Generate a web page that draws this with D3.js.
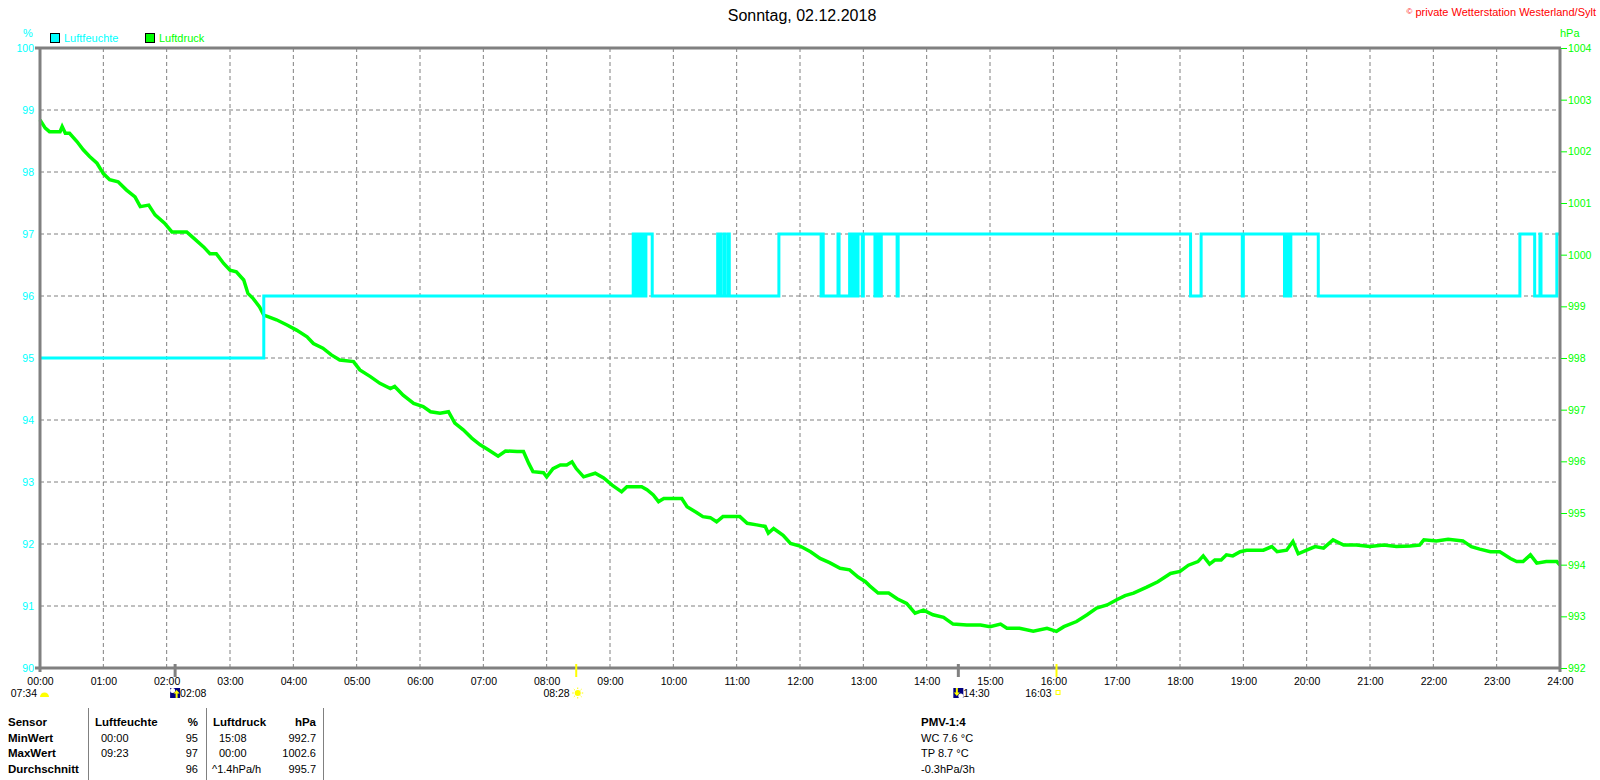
<!DOCTYPE html>
<html>
<head>
<meta charset="utf-8">
<script src="https://cdn.jsdelivr.net/npm/d3@7"></script>
<style>
body { margin: 0; background: #fff; }
svg { display: block; font-family: "Liberation Sans", Arial, sans-serif; }
</style>
</head>
<body>
<div id="chart"></div>
<script>
// Luftfeuchte (%), Stufenwerte: Zeitpunkt -> neuer Wert
var humTimes = [
  "00:00", "03:32",
  "09:22", "09:24", "09:25", "09:26", "09:27", "09:28", "09:29", "09:31", "09:32", "09:33", "09:34", "09:40",
  "10:42", "10:43", "10:44", "10:45", "10:48", "10:49", "10:52", "10:53",
  "11:40", "12:20", "12:21", "12:22", "12:36", "12:37",
  "12:47", "12:48", "12:49", "12:50", "12:51", "12:52", "12:53", "12:54", "12:55",
  "12:59", "13:00", "13:11", "13:12", "13:14", "13:15", "13:16", "13:17", "13:32", "13:33",
  "18:10", "18:20", "18:59", "19:00",
  "19:39", "19:40", "19:41", "19:43", "19:44", "19:45", "20:11",
  "23:22", "23:36", "23:41", "23:42", "23:57", "24:00"
];
var humValues = [
  95, 96,
  97, 96, 97, 96, 97, 96, 97, 96, 97, 96, 97, 96,
  97, 96, 97, 96, 97, 96, 97, 96,
  97, 96, 97, 96, 97, 96,
  97, 96, 97, 96, 97, 96, 97, 96, 97,
  96, 97, 96, 97, 96, 97, 96, 97, 96, 97,
  96, 97, 96, 97,
  96, 97, 96, 97, 96, 97, 96,
  97, 96, 97, 96, 97, 97
];

// Luftdruck (hPa)
var pressTimes = [
  "00:00", "00:05", "00:09", "00:19", "00:21", "00:24", "00:28", "00:35", "00:41", "00:47",
  "00:54", "01:00", "01:06", "01:14", "01:22", "01:30", "01:35", "01:43", "01:49", "01:58",
  "02:05", "02:13", "02:19", "02:24", "02:35", "02:41", "02:47", "02:54", "03:00", "03:06",
  "03:13", "03:17", "03:22", "03:28", "03:32", "03:36", "03:44", "03:54", "04:03", "04:13",
  "04:19", "04:28", "04:36", "04:44", "04:57", "05:03", "05:13", "05:22", "05:32", "05:36",
  "05:44", "05:54", "06:03", "06:10", "06:19", "06:27", "06:33", "06:41", "06:49", "06:57",
  "07:05", "07:14", "07:21", "07:32", "07:38", "07:43", "07:47", "07:57", "08:00", "08:06",
  "08:13", "08:19", "08:24", "08:28", "08:35", "08:46", "08:54", "09:02", "09:11", "09:16",
  "09:30", "09:35", "09:41", "09:46", "09:51", "10:08", "10:13", "10:22", "10:28", "10:35",
  "10:41", "10:47", "11:03", "11:10", "11:19", "11:27", "11:30", "11:35", "11:44", "11:51",
  "12:00", "12:10", "12:19", "12:28", "12:38", "12:47", "12:55", "13:02", "13:06", "13:14",
  "13:24", "13:32", "13:41", "13:49", "13:57", "14:06", "14:16", "14:25", "14:38", "14:51",
  "15:00", "15:10", "15:16", "15:28", "15:41", "15:54", "16:03", "16:10", "16:22", "16:32",
  "16:41", "16:51", "17:00", "17:08", "17:16", "17:28", "17:39", "17:51", "18:00", "18:08",
  "18:17", "18:22", "18:28", "18:33", "18:39", "18:44", "18:50", "18:57", "19:03", "19:19",
  "19:27", "19:32", "19:41", "19:47", "19:52", "20:00", "20:08", "20:16", "20:25", "20:35",
  "20:47", "21:00", "21:13", "21:25", "21:38", "21:47", "21:51", "22:03", "22:14", "22:28",
  "22:36", "22:44", "22:54", "23:03", "23:13", "23:19", "23:25", "23:32", "23:38", "23:47",
  "23:57", "24:00"
];
var pressValues = [
  1002.61, 1002.45, 1002.38, 1002.38, 1002.48, 1002.35, 1002.35, 1002.19, 1002.03, 1001.90,
  1001.77, 1001.57, 1001.45, 1001.41, 1001.25, 1001.12, 1000.93, 1000.96, 1000.77, 1000.61,
  1000.44, 1000.44, 1000.44, 1000.35, 1000.15, 1000.02, 1000.02, 999.83, 999.70, 999.67,
  999.51, 999.25, 999.15, 998.99, 998.83, 998.80, 998.74, 998.64, 998.54, 998.41,
  998.28, 998.19, 998.06, 997.96, 997.93, 997.77, 997.64, 997.51, 997.41, 997.45,
  997.28, 997.12, 997.06, 996.96, 996.93, 996.96, 996.74, 996.61, 996.45, 996.32,
  996.22, 996.10, 996.20, 996.19, 996.19, 995.96, 995.80, 995.78, 995.70, 995.86,
  995.93, 995.93, 995.99, 995.86, 995.70, 995.77, 995.68, 995.54, 995.41, 995.51,
  995.51, 995.45, 995.35, 995.22, 995.28, 995.28, 995.12, 995.01, 994.93, 994.91,
  994.83, 994.93, 994.93, 994.80, 994.77, 994.74, 994.61, 994.70, 994.57, 994.41,
  994.36, 994.25, 994.12, 994.04, 993.93, 993.90, 993.76, 993.67, 993.59, 993.45,
  993.45, 993.34, 993.25, 993.06, 993.12, 993.03, 992.98, 992.85, 992.83, 992.83,
  992.80, 992.85, 992.77, 992.77, 992.71, 992.77, 992.71, 992.80, 992.90, 993.03,
  993.16, 993.22, 993.32, 993.40, 993.45, 993.56, 993.67, 993.83, 993.87, 993.99,
  994.06, 994.17, 994.01, 994.09, 994.09, 994.19, 994.17, 994.25, 994.28, 994.28,
  994.35, 994.25, 994.28, 994.45, 994.21, 994.28, 994.35, 994.32, 994.48, 994.38,
  994.38, 994.35, 994.38, 994.35, 994.36, 994.38, 994.48, 994.46, 994.49, 994.46,
  994.35, 994.30, 994.25, 994.25, 994.12, 994.06, 994.06, 994.19, 994.03, 994.06,
  994.06, 993.99
];

var humTicks = [90, 91, 92, 93, 94, 95, 96, 97, 98, 99, 100];
var pressTicks = [992, 993, 994, 995, 996, 997, 998, 999, 1000, 1001, 1002, 1003, 1004];
var hourTicks = ["00:00","01:00","02:00","03:00","04:00","05:00","06:00","07:00","08:00","09:00","10:00","11:00",
  "12:00","13:00","14:00","15:00","16:00","17:00","18:00","19:00","20:00","21:00","22:00","23:00","24:00"];

var dawnTime = "07:34";
var sunriseTime = "08:28";
var sunsetTime = "16:03";
var moonriseTime = "02:08";
var moonsetTime = "14:30";

var tableHead = ["Sensor", "Luftfeuchte", "%", "Luftdruck", "hPa"];
var tableRows = ["MinWert", "MaxWert", "Durchschnitt"];
var humTimeCol = ["00:00", "09:23", ""];
var humValCol = ["95", "97", "96"];
var pressTimeCol = ["15:08", "00:00", "^1.4hPa/h"];
var pressValCol = ["992.7", "1002.6", "995.7"];
var pmvLines = ["WC 7.6 °C", "TP 8.7 °C", "-0.3hPa/3h"];

var svgWidth = 1600;
var svgHeight = 780;
var margin = { top: 48, right: 40, bottom: 112, left: 40 };
var width = svgWidth - margin.left - margin.right;
var height = svgHeight - margin.top - margin.bottom;

var grey = "#808080";
var cyan = "#00ffff";
var green = "#00ff00";

function toMin(s) {
  var p = s.split(":");
  return +p[0] * 60 + +p[1];
}

var humData = humTimes.map(function(t, i) { return { t: toMin(t), v: humValues[i] }; });
var pressData = pressTimes.map(function(t, i) { return { t: toMin(t), v: pressValues[i] }; });

var svg = d3.select("#chart")
  .append("svg")
  .attr("width", svgWidth)
  .attr("height", svgHeight);

svg.append("rect").attr("width", svgWidth).attr("height", svgHeight).attr("fill", "#fff");

var x = d3.scaleLinear().domain([0, 1440]).range([margin.left, margin.left + width]);
var yHum = d3.scaleLinear().domain([90, 100]).range([margin.top + height, margin.top]);
var yPress = d3.scaleLinear().domain([992, 1004]).range([margin.top + height, margin.top]);

// grid
svg.append("g").selectAll("line")
  .data(hourTicks.slice(1, -1))
  .enter().append("line")
  .attr("x1", d => x(toMin(d))).attr("x2", d => x(toMin(d)))
  .attr("y1", margin.top).attr("y2", margin.top + height)
  .attr("stroke", grey).attr("stroke-dasharray", "4,3");

svg.append("g").selectAll("line")
  .data(humTicks.slice(1, -1))
  .enter().append("line")
  .attr("x1", margin.left).attr("x2", margin.left + width)
  .attr("y1", d => yHum(d)).attr("y2", d => yHum(d))
  .attr("stroke", grey).attr("stroke-dasharray", "4,3");

// lines
svg.append("path")
  .datum(pressData)
  .attr("fill", "none")
  .attr("stroke", green)
  .attr("stroke-width", 3.5)
  .attr("d", d3.line().x(d => x(d.t)).y(d => yPress(d.v)));

svg.append("path")
  .datum(humData)
  .attr("fill", "none")
  .attr("stroke", cyan)
  .attr("stroke-width", 3)
  .attr("d", d3.line().curve(d3.curveStepAfter).x(d => x(d.t)).y(d => yHum(d.v)));

// frame
var frame = svg.append("g").attr("stroke", grey).attr("stroke-width", 3);
frame.append("line").attr("x1", margin.left - 5).attr("x2", margin.left + width + 1)
  .attr("y1", margin.top).attr("y2", margin.top);
frame.append("line").attr("x1", margin.left - 5).attr("x2", margin.left + width + 1)
  .attr("y1", margin.top + height).attr("y2", margin.top + height);
frame.append("line").attr("x1", margin.left).attr("x2", margin.left)
  .attr("y1", margin.top).attr("y2", margin.top + height + 4);
frame.append("line").attr("x1", margin.left + width).attr("x2", margin.left + width)
  .attr("y1", margin.top).attr("y2", margin.top + height + 4);

// axes
var bottomAxis = d3.axisBottom(x)
  .tickValues(hourTicks.map(toMin))
  .tickFormat((d, i) => hourTicks[i])
  .tickSize(0).tickPadding(10);
var gx = svg.append("g").attr("transform", `translate(0, ${margin.top + height})`).call(bottomAxis);
gx.select(".domain").remove();
gx.selectAll("text").attr("fill", "#000").style("font-size", "10.5px").style("font-family", "Liberation Sans, Arial");

var leftAxis = d3.axisLeft(yHum).tickValues(humTicks).tickSize(0).tickPadding(6);
var gl = svg.append("g").attr("transform", `translate(${margin.left}, 0)`).call(leftAxis);
gl.select(".domain").remove();
gl.selectAll("text").attr("fill", cyan).style("font-size", "10.5px").style("font-family", "Liberation Sans, Arial");

var rightAxis = d3.axisRight(yPress).tickValues(pressTicks).tickFormat(d3.format("d"))
  .tickSize(6).tickPadding(1);
var gr = svg.append("g").attr("transform", `translate(${margin.left + width + 1}, 0)`).call(rightAxis);
gr.select(".domain").remove();
gr.selectAll("line").attr("stroke", green);
gr.selectAll("text").attr("fill", green).style("font-size", "10.5px").style("font-family", "Liberation Sans, Arial");

// title, units, legend
svg.append("text").attr("x", 802).attr("y", 21).attr("text-anchor", "middle")
  .style("font-size", "16px").text("Sonntag, 02.12.2018");

var copy = svg.append("text").attr("x", 1596).attr("y", 16).attr("text-anchor", "end")
  .attr("fill", "#ff0000").style("font-size", "11px");
copy.append("tspan").style("font-size", "8px").attr("dy", -2).text("©");
copy.append("tspan").attr("dy", 2).text(" private Wetterstation Westerland/Sylt");

svg.append("text").attr("x", 23).attr("y", 37).attr("fill", cyan).style("font-size", "11px").text("%");
svg.append("text").attr("x", 1560).attr("y", 37).attr("fill", green).style("font-size", "11px").text("hPa");

var legendItems = [["Luftfeuchte", cyan, 50], ["Luftdruck", green, 145]];
legendItems.forEach(function(l) {
  svg.append("rect").attr("x", l[2] + 0.5).attr("y", 33.5).attr("width", 9).attr("height", 9)
    .attr("fill", l[1]).attr("stroke", "#000");
  svg.append("text").attr("x", l[2] + 14).attr("y", 42).attr("fill", l[1])
    .style("font-size", "11px").text(l[0]);
});

// sun / moon markers
var axisY = margin.top + height;
function evTick(t, color) {
  svg.append("line").attr("x1", x(toMin(t))).attr("x2", x(toMin(t)))
    .attr("y1", axisY - 4).attr("y2", axisY + 9)
    .attr("stroke", color).attr("stroke-width", color === grey ? 3 : 2);
}
evTick(moonriseTime, grey);
evTick(moonsetTime, grey);
evTick(sunriseTime, "#ffff00");
evTick(sunsetTime, "#ffff00");

var ty = 697;
function smallText(xp, txt, anchor) {
  return svg.append("text").attr("x", xp).attr("y", ty).attr("text-anchor", anchor || "start")
    .attr("fill", "#000").style("font-size", "10.5px").text(txt);
}

// Daemmerung
smallText(37, dawnTime, "end");
svg.append("path")
  .attr("d", d3.arc()({ innerRadius: 0, outerRadius: 4.5, startAngle: -Math.PI / 2, endAngle: Math.PI / 2 }))
  .attr("transform", `translate(${x(0) + 4.5}, ${ty})`)
  .attr("fill", "#ffff00");

// Sonnenaufgang
var sx = x(toMin(sunriseTime)) + 1.5;
smallText(sx - 8, sunriseTime, "end");
var sun = svg.append("g").attr("transform", `translate(${sx}, 693)`);
sun.append("circle").attr("r", 3).attr("fill", "#ffff00");
d3.range(8).forEach(function(i) {
  var a = i * Math.PI / 4;
  sun.append("line").attr("x1", Math.cos(a) * 4).attr("y1", Math.sin(a) * 4)
    .attr("x2", Math.cos(a) * 5.5).attr("y2", Math.sin(a) * 5.5)
    .attr("stroke", "#ffff00").attr("stroke-width", 1);
});

// Sonnenuntergang
var ssx = x(toMin(sunsetTime));
smallText(ssx - 5, sunsetTime, "end");
svg.append("rect").attr("x", ssx - 0.5).attr("y", 690.5).attr("width", 4).attr("height", 4)
  .attr("fill", "none").attr("stroke", "#ffff00");

// Mond
function moonIcon(t, rise) {
  var mx = x(toMin(t));
  var g = svg.append("g").attr("transform", `translate(${mx - 5}, 688)`);
  g.append("rect").attr("width", 10).attr("height", 10).attr("fill", "#000080");
  if (rise) {
    g.append("circle").attr("cx", 2.5).attr("cy", 2.5).attr("r", 2.5).attr("fill", "#fff");
    g.append("path").attr("d", "M6.5,2 L9.5,5.5 L7.5,5.5 L7.5,10 L5.5,10 L5.5,5.5 L3.5,5.5 Z").attr("fill", "#ffff00");
  } else {
    g.append("circle").attr("cx", 7.5).attr("cy", 8).attr("r", 2.5).attr("fill", "#fff");
    g.append("path").attr("d", "M3.5,8 L0.5,4.5 L2.5,4.5 L2.5,0 L4.5,0 L4.5,4.5 L6.5,4.5 Z").attr("fill", "#ffff00");
  }
  smallText(mx + 5, t, "start");
}
moonIcon(moonriseTime, true);
moonIcon(moonsetTime, false);

// Tabelle
var rowY = [726, 742, 757, 773];
var tbl = svg.append("g").style("font-size", "11px").attr("fill", "#000");
[88, 206, 323].forEach(function(lx) {
  tbl.append("line").attr("x1", lx + 0.5).attr("x2", lx + 0.5).attr("y1", 708).attr("y2", 780)
    .attr("stroke", grey);
});
var headX = [8, 95, 198, 213, 316];
var headAnchor = ["start", "start", "end", "start", "end"];
tableHead.forEach(function(h, i) {
  tbl.append("text").attr("x", headX[i]).attr("y", rowY[0]).attr("text-anchor", headAnchor[i])
    .style("font-weight", "bold").style("font-size", "11.5px").text(h);
});
tableRows.forEach(function(r, i) {
  var yy = rowY[i + 1];
  tbl.append("text").attr("x", 8).attr("y", yy).style("font-weight", "bold").style("font-size", "11.5px").text(r);
  tbl.append("text").attr("x", 101).attr("y", yy).text(humTimeCol[i]);
  tbl.append("text").attr("x", 198).attr("y", yy).attr("text-anchor", "end").text(humValCol[i]);
  tbl.append("text").attr("x", pressTimeCol[i].charAt(0) === "^" ? 212 : 219).attr("y", yy).text(pressTimeCol[i]);
  tbl.append("text").attr("x", 316).attr("y", yy).attr("text-anchor", "end").text(pressValCol[i]);
});

tbl.append("text").attr("x", 921).attr("y", rowY[0]).style("font-weight", "bold").style("font-size", "11.5px").text("PMV-1:4");
pmvLines.forEach(function(p, i) {
  tbl.append("text").attr("x", 921).attr("y", rowY[i + 1]).text(p);
});
</script>
</body>
</html>
